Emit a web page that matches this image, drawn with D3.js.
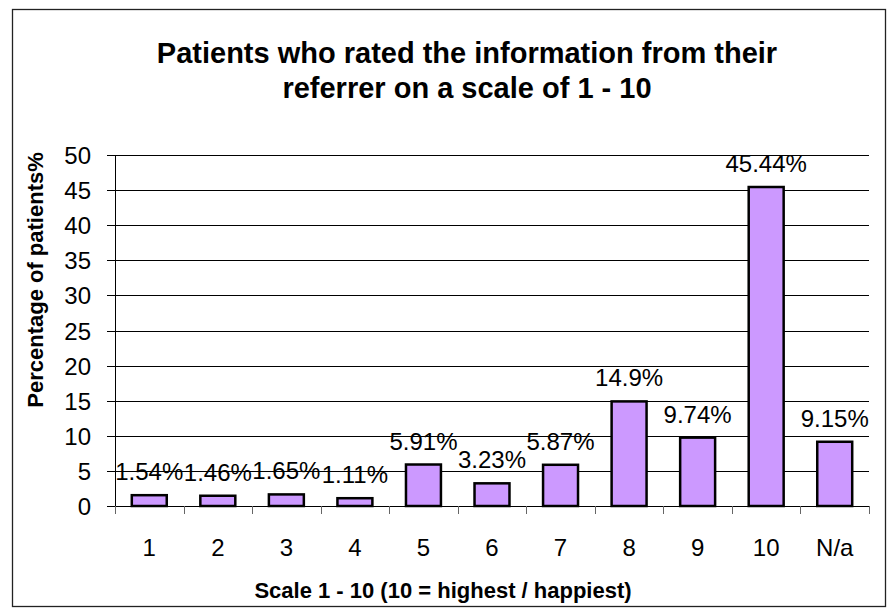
<!DOCTYPE html>
<html>
<head>
<meta charset="utf-8">
<script src="https://cdn.jsdelivr.net/npm/d3@7"></script>
<style>
  body { margin: 0; background: #fff; }
  svg { display: block; font-family: "Liberation Sans", Arial, sans-serif; }
</style>
</head>
<body>
<svg width="891" height="612"></svg>
<script>
// data
const categories = ["1", "2", "3", "4", "5", "6", "7", "8", "9", "10", "N/a"];
const values = [1.54, 1.46, 1.65, 1.11, 5.91, 3.23, 5.87, 14.9, 9.74, 45.44, 9.15];
const valueLabels = ["1.54%", "1.46%", "1.65%", "1.11%", "5.91%", "3.23%", "5.87%", "14.9%", "9.74%", "45.44%", "9.15%"];
const yTicks = [0, 5, 10, 15, 20, 25, 30, 35, 40, 45, 50];
const titleLines = ["Patients who rated the information from their", "referrer on a scale of 1 - 10"];

const svg = d3.select("svg");
const margin = {left: 115, right: 22, top: 155, bottom: 106};
const width = 891, height = 612;

// outer frame
svg.append("rect")
  .attr("x", 12.5).attr("y", 9.5)
  .attr("width", 873).attr("height", 597)
  .attr("fill", "none").attr("stroke", "#222").attr("stroke-width", 1.3);

const x = d3.scaleBand()
  .domain(categories)
  .range([margin.left, width - margin.right])
  .paddingInner(0.49).paddingOuter(0.245);
const y = d3.scaleLinear()
  .domain([0, 50])
  .range([height - margin.bottom, margin.top]);

// horizontal gridlines, with the tick stub to the left of the axis
svg.append("g")
  .selectAll("line")
  .data(yTicks).enter()
  .append("line")
  .attr("x1", margin.left - 8).attr("x2", width - margin.right)
  .attr("y1", d => Math.round(y(d)) + 0.5).attr("y2", d => Math.round(y(d)) + 0.5)
  .attr("stroke", "#000").attr("stroke-width", 1);

// y tick labels
svg.append("g")
  .selectAll("text")
  .data(yTicks).enter()
  .append("text")
  .attr("x", 91).attr("y", d => y(d) + 9)
  .attr("text-anchor", "end")
  .attr("font-size", 24)
  .text(d => d);

// y axis line
svg.append("line")
  .attr("x1", margin.left + 0.5).attr("x2", margin.left + 0.5)
  .attr("y1", y(50)).attr("y2", y(0))
  .attr("stroke", "#000");

// x axis ticks at band boundaries
const step = x.step();
const bounds = d3.range(categories.length + 1).map(i => margin.left + i * step);
svg.append("g")
  .selectAll("line")
  .data(bounds).enter()
  .append("line")
  .attr("x1", d => Math.round(d) + 0.5).attr("x2", d => Math.round(d) + 0.5)
  .attr("y1", y(0)).attr("y2", y(0) + 8)
  .attr("stroke", "#666");

// x tick labels
svg.append("g")
  .selectAll("text")
  .data(categories).enter()
  .append("text")
  .attr("x", d => x(d) + x.bandwidth() / 2)
  .attr("y", 556)
  .attr("text-anchor", "middle")
  .attr("font-size", 24)
  .text(d => d);

// bars
svg.append("g")
  .selectAll("rect")
  .data(values).enter()
  .append("rect")
  .attr("x", (d, i) => x(categories[i]))
  .attr("y", d => y(d))
  .attr("width", x.bandwidth())
  .attr("height", d => y(0) - y(d))
  .attr("fill", "#cc99ff")
  .attr("stroke", "#000").attr("stroke-width", 2.5);

// value labels
svg.append("g")
  .selectAll("text")
  .data(values).enter()
  .append("text")
  .attr("x", (d, i) => x(categories[i]) + x.bandwidth() / 2)
  .attr("y", d => y(d) - 15)
  .attr("text-anchor", "middle")
  .attr("font-size", 24)
  .text((d, i) => valueLabels[i]);

// title
svg.append("text")
  .attr("x", 467).attr("y", 63)
  .attr("text-anchor", "middle")
  .attr("font-size", 29).attr("font-weight", "bold")
  .selectAll("tspan")
  .data(titleLines).enter()
  .append("tspan")
  .attr("x", 467)
  .attr("dy", (d, i) => i === 0 ? 0 : 35)
  .text(d => d);

// axis titles
svg.append("text")
  .attr("x", 443).attr("y", 598)
  .attr("text-anchor", "middle")
  .attr("font-size", 22).attr("font-weight", "bold")
  .text("Scale 1 - 10 (10 = highest / happiest)");

svg.append("text")
  .attr("transform", "translate(43,280) rotate(-90)")
  .attr("text-anchor", "middle")
  .attr("font-size", 22).attr("font-weight", "bold")
  .text("Percentage of patients%");
</script>
</body>
</html>
